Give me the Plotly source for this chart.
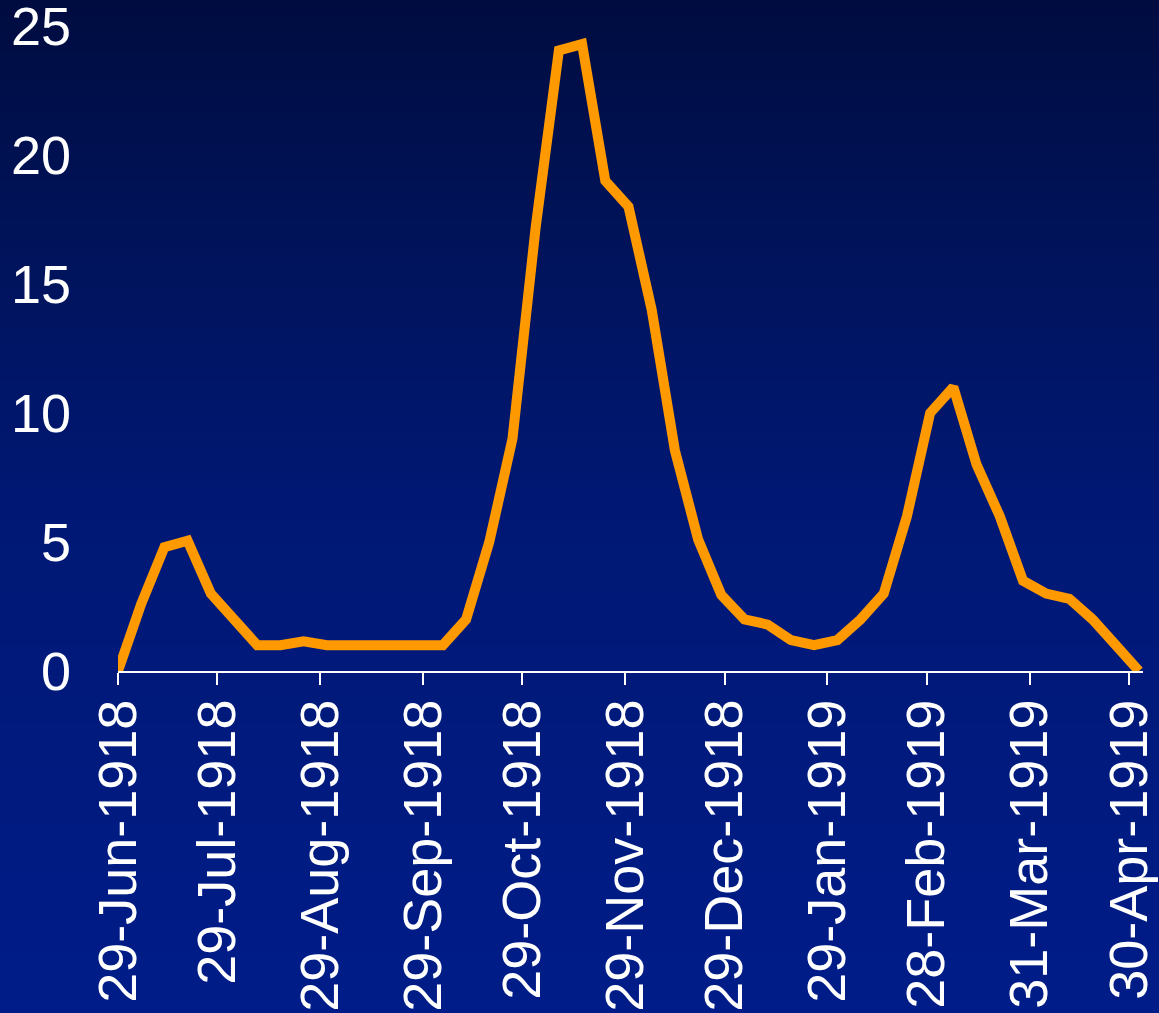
import plotly.graph_objects as go

# ---- data ----
dates = [
    "1918-06-29", "1918-07-06", "1918-07-13", "1918-07-20", "1918-07-27",
    "1918-08-03", "1918-08-10", "1918-08-17", "1918-08-24", "1918-08-31",
    "1918-09-07", "1918-09-14", "1918-09-21", "1918-09-28", "1918-10-05",
    "1918-10-12", "1918-10-19", "1918-10-26", "1918-11-02", "1918-11-09",
    "1918-11-16", "1918-11-23", "1918-11-30", "1918-12-07", "1918-12-14",
    "1918-12-21", "1918-12-28", "1919-01-04", "1919-01-11", "1919-01-18",
    "1919-01-25", "1919-02-01", "1919-02-08", "1919-02-15", "1919-02-22",
    "1919-03-01", "1919-03-08", "1919-03-15", "1919-03-22", "1919-03-29",
    "1919-04-05", "1919-04-12", "1919-04-19", "1919-04-26", "1919-05-03",
]
values = [
    0.0, 2.6, 4.8, 5.05, 3.0,
    2.0, 1.0, 1.0, 1.15, 1.0,
    1.0, 1.0, 1.0, 1.0, 1.0,
    2.0, 5.0, 9.0, 17.2, 24.05,
    24.3, 19.0, 18.0, 14.0, 8.55,
    5.1, 2.95, 2.0, 1.8, 1.2,
    1.0, 1.2, 2.0, 3.0, 6.0,
    10.0, 11.0, 8.0, 6.0, 3.5,
    3.0, 2.8, 2.0, 1.0, 0.0,
]
tick_dates = [
    "1918-06-29", "1918-07-29", "1918-08-29", "1918-09-29", "1918-10-29",
    "1918-11-29", "1918-12-29", "1919-01-29", "1919-02-28", "1919-03-31",
    "1919-04-30",
]
tick_labels = [
    "29-Jun-1918", "29-Jul-1918", "29-Aug-1918", "29-Sep-1918", "29-Oct-1918",
    "29-Nov-1918", "29-Dec-1918", "29-Jan-1919", "28-Feb-1919", "31-Mar-1919",
    "30-Apr-1919",
]
y_ticks = [0, 5, 10, 15, 20, 25]

# ---- layout geometry ----
W, H = 1159, 1013
L, R, T, B = 118, 16, 26, 342
plot_h = H - T - B
plot_w = W - L - R

FONT = "Liberation Sans, Arial, Helvetica, sans-serif"
FSIZE = 54

fig = go.Figure()
fig.add_trace(go.Scatter(
    x=dates, y=values, mode="lines",
    line=dict(color="#FF9900", width=10),
    hoverinfo="x+y", showlegend=False,
))

# background vertical gradient built from thin horizontal strips
stops = [(0.0, (0, 12, 64)), (0.2, (0, 18, 86)), (0.5, (0, 24, 116)), (1.0, (0, 28, 136))]


def col_at(f):
    for (f0, c0), (f1, c1) in zip(stops[:-1], stops[1:]):
        if f <= f1:
            t = (f - f0) / (f1 - f0)
            return "rgb(%d,%d,%d)" % tuple(round(a + (b - a) * t) for a, b in zip(c0, c1))
    return "rgb(%d,%d,%d)" % stops[-1][1]


shapes = []
step = 3
for py in range(0, H + step, step):
    y_top = (H - B - py) / plot_h
    y_bot = (H - B - (py + step + 1)) / plot_h
    shapes.append(dict(
        type="rect", xref="paper", yref="paper", layer="below",
        x0=-L / plot_w - 0.02, x1=1 + R / plot_w + 0.02,
        y0=y_bot, y1=y_top,
        fillcolor=col_at(min(1.0, (py + step / 2) / H)), line=dict(width=0),
    ))

fig.update_layout(
    width=W, height=H,
    margin=dict(l=L, r=R, t=T, b=B, pad=0, autoexpand=False),
    paper_bgcolor="rgb(0,26,128)",
    plot_bgcolor="rgba(0,0,0,0)",
    shapes=shapes,
    font=dict(family=FONT, color="white", size=FSIZE),
    xaxis=dict(
        type="date",
        range=["1918-06-29", "1919-05-04 05:00"],
        tickmode="array", tickvals=tick_dates, ticktext=tick_labels,
        tickangle=-90,
        tickfont=dict(family=FONT, size=FSIZE, color="white"),
        showgrid=False, zeroline=False,
        showline=True, linecolor="white", linewidth=2,
        ticks="outside", ticklen=12, tickwidth=2, tickcolor="white",
        ticklabelstandoff=-7,
        ticklabeloverflow="allow",
        automargin=False,
    ),
    yaxis=dict(
        range=[0, 25],
        tickmode="array", tickvals=y_ticks,
        tickfont=dict(family=FONT, size=FSIZE, color="white"),
        showgrid=False, zeroline=False, showline=False,
        ticks="", ticklabelstandoff=46,
        ticklabeloverflow="allow",
        automargin=False,
    ),
)

fig.write_html(
    "out.html",
    config={"displayModeBar": False},
    post_script="document.body.style.margin='0';document.body.style.overflow='hidden';",
)
